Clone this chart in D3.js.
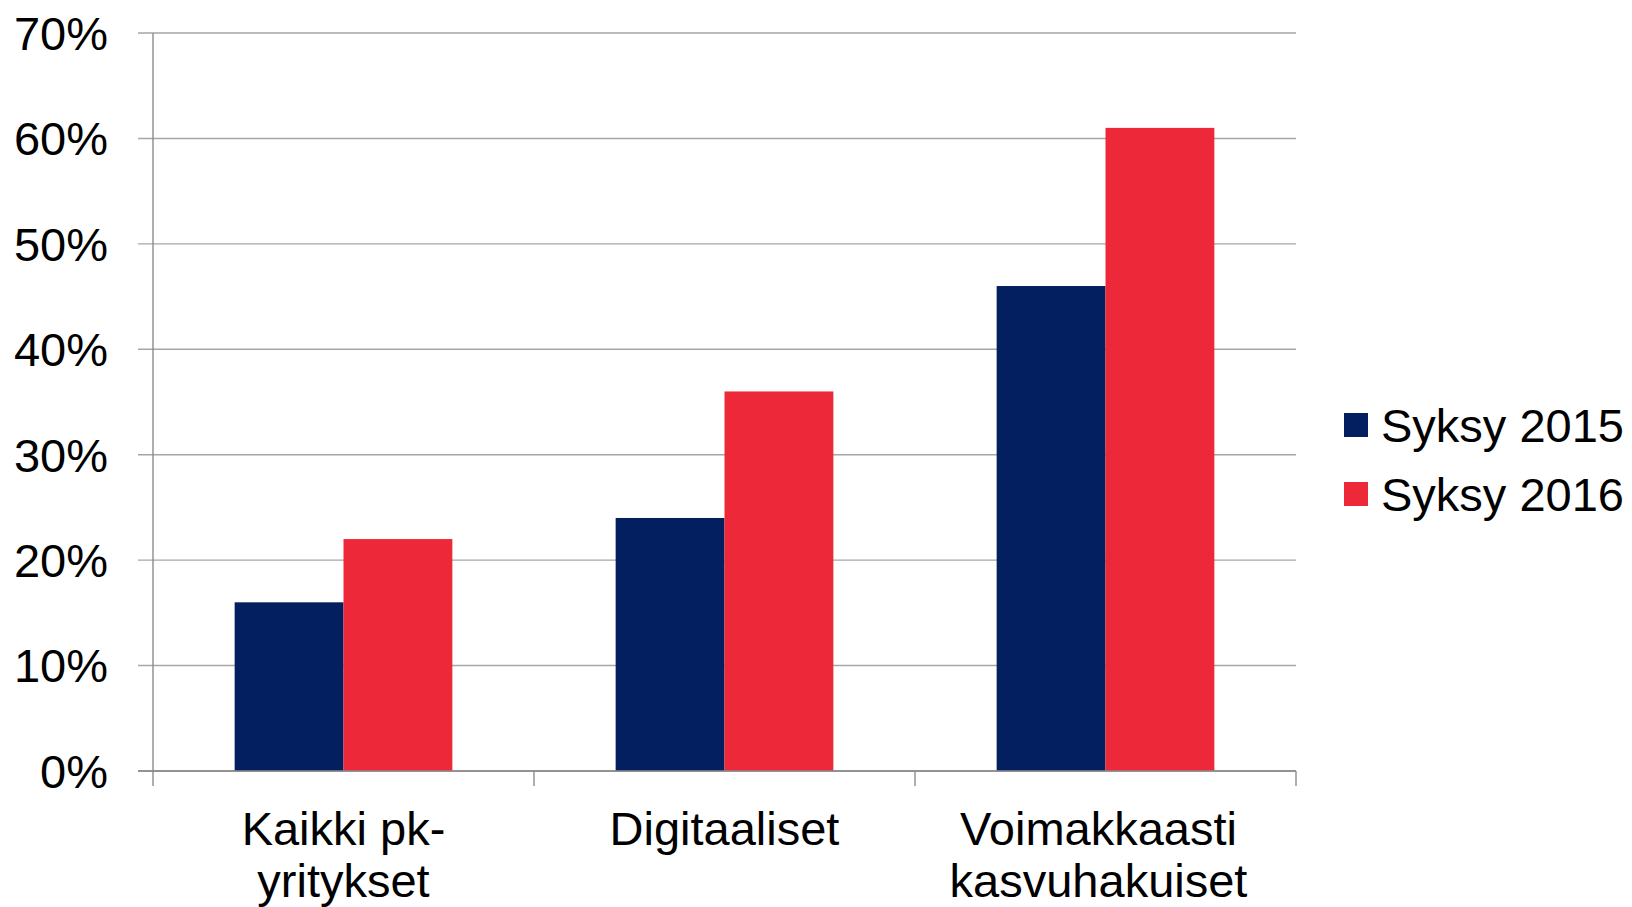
<!DOCTYPE html>
<html>
<head>
<meta charset="utf-8">
<script src="https://cdn.jsdelivr.net/npm/d3@7"></script>
<style>
  body { margin: 0; background: #fff; }
  svg { display: block; font-family: "Liberation Sans", Arial, sans-serif; }
</style>
</head>
<body>
<svg id="chart" width="1632" height="907"></svg>
<script>
// data
var categories = ["Kaikki pk-yritykset", "Digitaaliset", "Voimakkaasti kasvuhakuiset"];
var categoryLines = [["Kaikki pk-", "yritykset"], ["Digitaaliset"], ["Voimakkaasti", "kasvuhakuiset"]];
var seriesNames = ["Syksy 2015", "Syksy 2016"];
var syksy2015 = [0.16, 0.24, 0.46];
var syksy2016 = [0.22, 0.36, 0.61];
var yTicks = [0, 0.1, 0.2, 0.3, 0.4, 0.5, 0.6, 0.7];
var colors = ["#031f5f", "#ed2838"];

var svg = d3.select('#chart');
var plot = { left: 153, right: 1296, top: 33, bottom: 771 };
var fontSize = 47;
// the last label sits a bit left of its band centre in the original
var labelShift = [0, 0, -7];

var y = d3.scaleLinear().domain([0, 0.7]).range([plot.bottom, plot.top]);
var x0 = d3.scaleBand().domain(categories).range([plot.left, plot.right]);
var x1 = d3.scaleBand().domain(seriesNames).range([0, x0.bandwidth()])
  .paddingInner(0).paddingOuter(0.75);

// gridlines + y ticks
svg.append('g').selectAll('line')
  .data(yTicks)
  .enter().append('line')
  .attr('x1', plot.left - 15)
  .attr('x2', plot.right)
  .attr('y1', function(d) { return y(d); })
  .attr('y2', function(d) { return y(d); })
  .attr('stroke', function(d) { return d === 0 ? '#8c8c8c' : '#a6a6a6'; })
  .attr('stroke-width', 1.4);

svg.append('g').selectAll('text')
  .data(yTicks)
  .enter().append('text')
  .attr('x', 108)
  .attr('y', function(d) { return y(d) + fontSize * 0.358; })
  .attr('text-anchor', 'end')
  .attr('font-size', fontSize)
  .attr('fill', '#000')
  .text(d3.format('.0%'));

// bars
var rows = categories.map(function(c, i) {
  return [
    { cat: c, series: seriesNames[0], value: syksy2015[i], color: colors[0] },
    { cat: c, series: seriesNames[1], value: syksy2016[i], color: colors[1] }
  ];
});

svg.append('g').selectAll('g')
  .data(rows)
  .enter().append('g')
  .attr('transform', function(d) { return 'translate(' + x0(d[0].cat) + ',0)'; })
  .selectAll('rect')
  .data(function(d) { return d; })
  .enter().append('rect')
  .attr('x', function(d) { return x1(d.series); })
  .attr('width', x1.bandwidth())
  .attr('y', function(d) { return y(d.value); })
  .attr('height', function(d) { return y(0) - y(d.value); })
  .attr('fill', function(d) { return d.color; });

// y axis line
svg.append('line')
  .attr('x1', plot.left).attr('x2', plot.left)
  .attr('y1', plot.top).attr('y2', plot.bottom)
  .attr('stroke', '#8c8c8c').attr('stroke-width', 1.4);

// x axis line and category separator ticks
svg.append('line')
  .attr('x1', plot.left - 15).attr('x2', plot.right)
  .attr('y1', plot.bottom).attr('y2', plot.bottom)
  .attr('stroke', '#8c8c8c').attr('stroke-width', 1.4);

var sepTicks = categories.map(function(c) { return x0(c); }).concat([plot.right]);
svg.append('g').selectAll('line')
  .data(sepTicks)
  .enter().append('line')
  .attr('x1', function(d) { return d; })
  .attr('x2', function(d) { return d; })
  .attr('y1', plot.bottom)
  .attr('y2', plot.bottom + 15)
  .attr('stroke', '#8c8c8c').attr('stroke-width', 1.4);

// category labels
var catLabels = svg.append('g').selectAll('text')
  .data(categories)
  .enter().append('text')
  .attr('text-anchor', 'middle')
  .attr('font-size', fontSize)
  .attr('fill', '#000');

catLabels.selectAll('tspan')
  .data(function(d, i) {
    return categoryLines[i].map(function(line) { return { cat: d, line: line, shift: labelShift[i] }; });
  })
  .enter().append('tspan')
  .attr('x', function(d) { return x0(d.cat) + x0.bandwidth() / 2 + d.shift; })
  .attr('y', function(d, j) { return 845 + j * 52; })
  .text(function(d) { return d.line; });

// legend
var legend = svg.append('g').selectAll('g')
  .data(seriesNames)
  .enter().append('g')
  .attr('transform', function(d, i) { return 'translate(1344,' + (413 + i * 69) + ')'; });

legend.append('rect')
  .attr('width', 24).attr('height', 24)
  .attr('fill', function(d, i) { return colors[i]; });

legend.append('text')
  .attr('x', 37)
  .attr('y', 29)
  .attr('font-size', fontSize)
  .attr('fill', '#000')
  .text(function(d) { return d; });
</script>
</body>
</html>
